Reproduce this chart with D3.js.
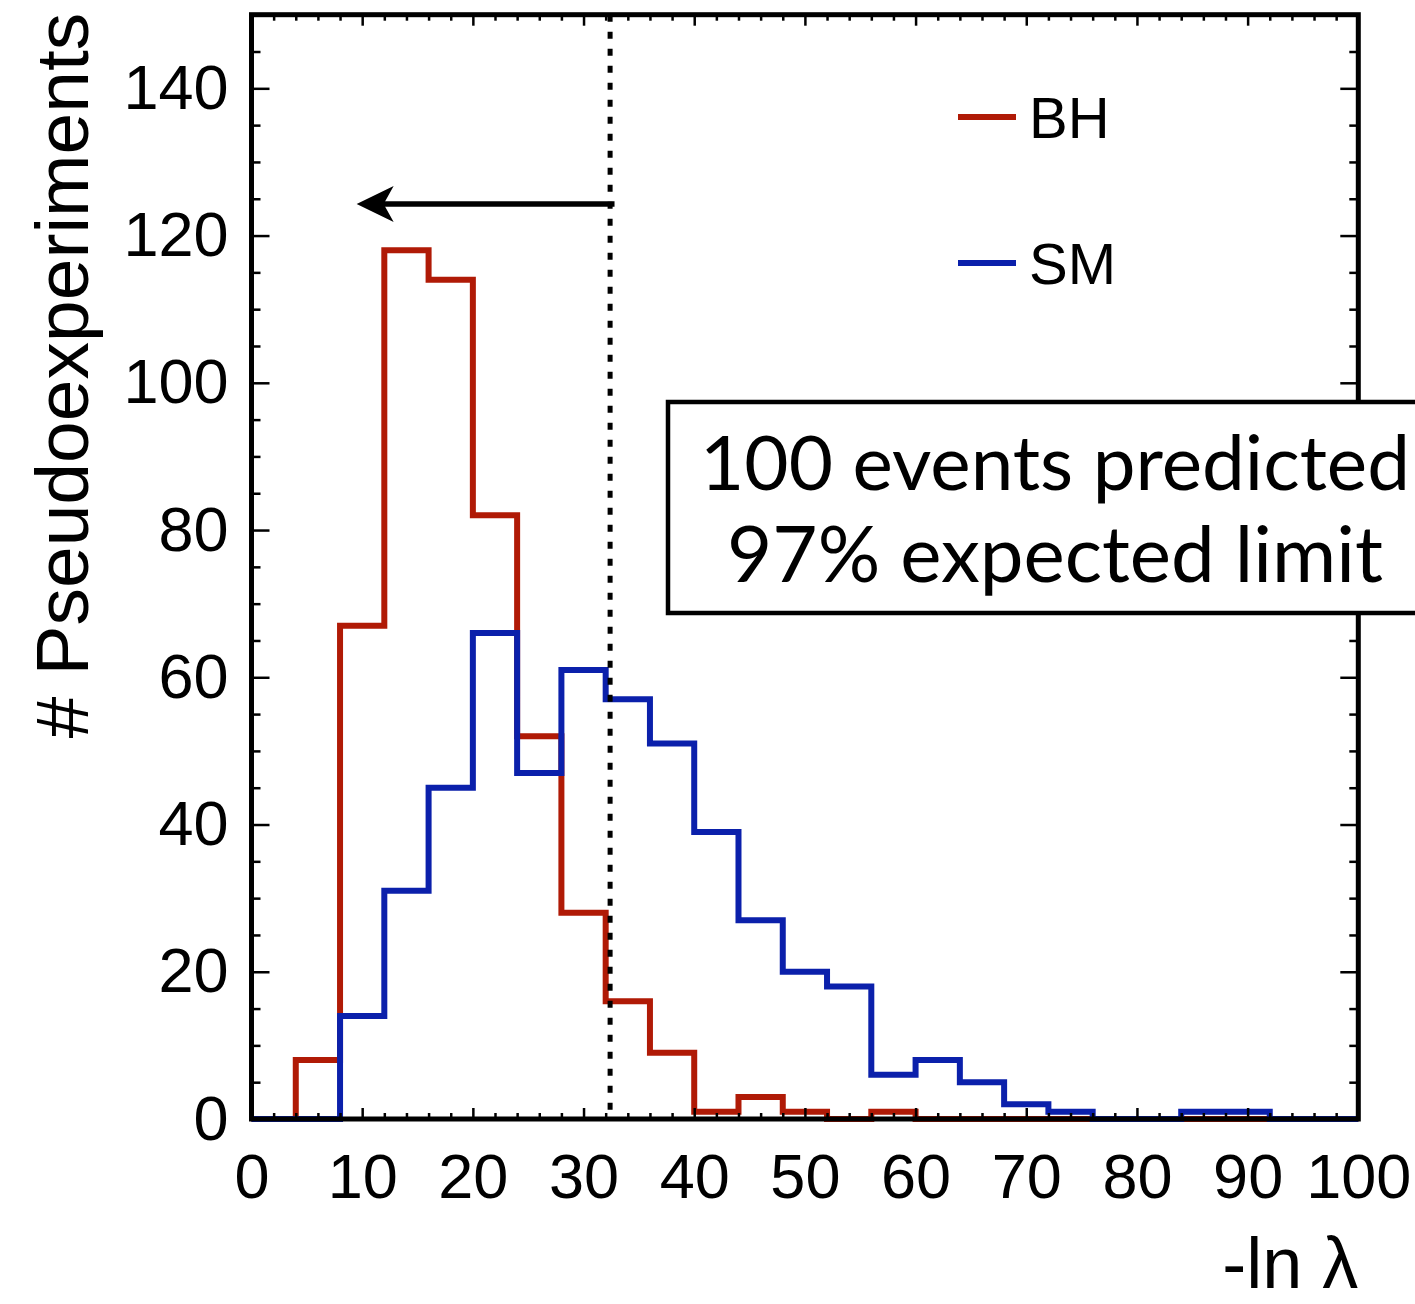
<!DOCTYPE html>
<html>
<head>
<meta charset="utf-8">
<script src="https://cdn.jsdelivr.net/npm/d3@7"></script>
<style>
  html, body { margin: 0; padding: 0; background: #fff; }
  svg { display: block; }
</style>
</head>
<body>
<svg id="chart" width="1415" height="1304"></svg>
<script>
// Histogram bins of -ln(lambda), width 4, from 0 to 100
const binEdges = d3.range(0, 101, 4);
const bhCounts = [0, 8, 67, 118, 114, 82, 52, 28, 16, 9, 1, 3, 1, 0, 1, 0, 0, 0, 0, 0, 0, 0, 0, 0, 0];
const smCounts = [0, 0, 14, 31, 45, 66, 47, 61, 57, 51, 39, 27, 20, 18, 6, 8, 5, 2, 1, 0, 0, 1, 1, 0, 0];
const seriesNames = ["BH", "SM"];
const seriesColors = ["#b01a06", "#0b20ab"];

// Axis ticks
const xMajorTicks = d3.range(0, 101, 10);
const xMinorTicks = d3.range(0, 101, 2).filter(v => v % 10 !== 0);
const yMajorTicks = d3.range(0, 141, 20);
const yMinorTicks = d3.range(0, 151, 5).filter(v => v % 20 !== 0);

// Expected-limit cut and arrow (in data units)
const cutValue = 32.4;
const arrowY = 124.3;
const arrowFrom = 32.8;
const arrowTo = 9.5;

const boxLines = ["100 events predicted", "97% expected limit"];

const svg = d3.select("#chart");
const x = d3.scaleLinear().domain([0, 100]).range([251.5, 1358.3]);
const y = d3.scaleLinear().domain([0, 150]).range([1119, 14.7]);

const labelFont = "'Liberation Sans', Arial, Helvetica, sans-serif";

// Step outline of a histogram
function stepPath(counts) {
  const p = d3.path();
  p.moveTo(x(binEdges[0]), y(counts[0]));
  counts.forEach((c, i) => {
    p.lineTo(x(binEdges[i]), y(c));
    p.lineTo(x(binEdges[i + 1]), y(c));
  });
  return p.toString();
}

// Histograms (SM drawn over BH)
[bhCounts, smCounts].forEach((counts, i) => {
  svg.append("path")
    .attr("d", stepPath(counts))
    .attr("fill", "none")
    .attr("stroke", seriesColors[i])
    .attr("stroke-width", 6)
    .attr("stroke-linejoin", "miter");
});

// Tick marks drawn inside the frame on all four sides
function styleAxis(g, labels) {
  g.select(".domain").remove();
  g.selectAll(".tick line").attr("stroke", "#000").attr("stroke-width", 2.5);
  if (!labels) g.selectAll(".tick text").remove();
  else g.selectAll(".tick text")
      .attr("font-family", labelFont)
      .attr("font-size", 63)
      .attr("fill", "#000");
}

svg.append("g").attr("transform", `translate(0,${y(0)})`)
  .call(d3.axisBottom(x).tickValues(xMajorTicks).tickSizeInner(-11).tickSizeOuter(0).tickPadding(34).tickFormat(d3.format("d")))
  .call(g => styleAxis(g, true));
svg.append("g").attr("transform", `translate(0,${y(0)})`)
  .call(d3.axisBottom(x).tickValues(xMinorTicks).tickSizeInner(-6).tickSizeOuter(0))
  .call(g => styleAxis(g, false));
svg.append("g").attr("transform", `translate(0,${y(150)})`)
  .call(d3.axisTop(x).tickValues(xMajorTicks).tickSizeInner(-11).tickSizeOuter(0))
  .call(g => styleAxis(g, false));
svg.append("g").attr("transform", `translate(0,${y(150)})`)
  .call(d3.axisTop(x).tickValues(xMinorTicks).tickSizeInner(-6).tickSizeOuter(0))
  .call(g => styleAxis(g, false));

svg.append("g").attr("transform", `translate(${x(0)},0)`)
  .call(d3.axisLeft(y).tickValues(yMajorTicks).tickSizeInner(-18).tickSizeOuter(0).tickPadding(23).tickFormat(d3.format("d")))
  .call(g => styleAxis(g, true));
svg.append("g").attr("transform", `translate(${x(0)},0)`)
  .call(d3.axisLeft(y).tickValues(yMinorTicks).tickSizeInner(-9).tickSizeOuter(0))
  .call(g => styleAxis(g, false));
svg.append("g").attr("transform", `translate(${x(100)},0)`)
  .call(d3.axisRight(y).tickValues(yMajorTicks).tickSizeInner(-18).tickSizeOuter(0))
  .call(g => styleAxis(g, false));
svg.append("g").attr("transform", `translate(${x(100)},0)`)
  .call(d3.axisRight(y).tickValues(yMinorTicks).tickSizeInner(-9).tickSizeOuter(0))
  .call(g => styleAxis(g, false));

// Frame
svg.append("rect")
  .attr("x", x(0)).attr("y", y(150))
  .attr("width", x(100) - x(0)).attr("height", y(0) - y(150))
  .attr("fill", "none").attr("stroke", "#000").attr("stroke-width", 5);

// Dotted cut line
svg.append("line")
  .attr("x1", x(cutValue)).attr("x2", x(cutValue))
  .attr("y1", y(150)).attr("y2", y(0))
  .attr("stroke", "#000").attr("stroke-width", 5)
  .attr("stroke-dasharray", "7 10");

// Arrow pointing to the excluded side
const ax0 = x(arrowFrom), ax1 = x(arrowTo), ay = y(arrowY);
svg.append("line")
  .attr("x1", ax0).attr("x2", ax1 + 20).attr("y1", ay).attr("y2", ay)
  .attr("stroke", "#000").attr("stroke-width", 5.5);
svg.append("path")
  .attr("d", `M${ax1},${ay} L${ax1 + 37},${ay - 18} L${ax1 + 27},${ay} L${ax1 + 37},${ay + 18} Z`)
  .attr("fill", "#000");

// Legend
const legendY = [117, 263];
seriesNames.forEach((name, i) => {
  svg.append("line")
    .attr("x1", 958).attr("x2", 1016)
    .attr("y1", legendY[i]).attr("y2", legendY[i])
    .attr("stroke", seriesColors[i]).attr("stroke-width", 6);
  svg.append("text")
    .attr("x", 1029).attr("y", legendY[i] + 21)
    .attr("font-family", labelFont).attr("font-size", 58)
    .attr("fill", "#000")
    .text(name);
});

// Info box
svg.append("rect")
  .attr("x", 668).attr("y", 402)
  .attr("width", 800).attr("height", 211)
  .attr("fill", "#fff").attr("stroke", "#000").attr("stroke-width", 4.5);

const boxFont = "Lato, 'Open Sans', sans-serif";
const boxBaselines = [490, 582];
const boxWidths = [710, 656];
boxLines.forEach((t, i) => {
  const txt = svg.append("text")
    .attr("x", 1055).attr("y", boxBaselines[i])
    .attr("text-anchor", "middle")
    .attr("font-family", boxFont).attr("font-size", 80)
    .attr("fill", "#000")
    .text(t);
  const w = txt.node().getComputedTextLength();
  txt.attr("font-size", 80 * boxWidths[i] / w);
});

// Axis titles
svg.append("text")
  .attr("transform", `translate(88,${y(150) - 2}) rotate(-90)`)
  .attr("text-anchor", "end")
  .attr("font-family", labelFont).attr("font-size", 75)
  .attr("fill", "#000")
  .text("# Pseudoexperiments");

svg.append("text")
  .attr("x", x(100)).attr("y", 1288)
  .attr("text-anchor", "end")
  .attr("font-family", labelFont).attr("font-size", 72)
  .attr("fill", "#000")
  .text("-ln λ");
</script>
</body>
</html>
